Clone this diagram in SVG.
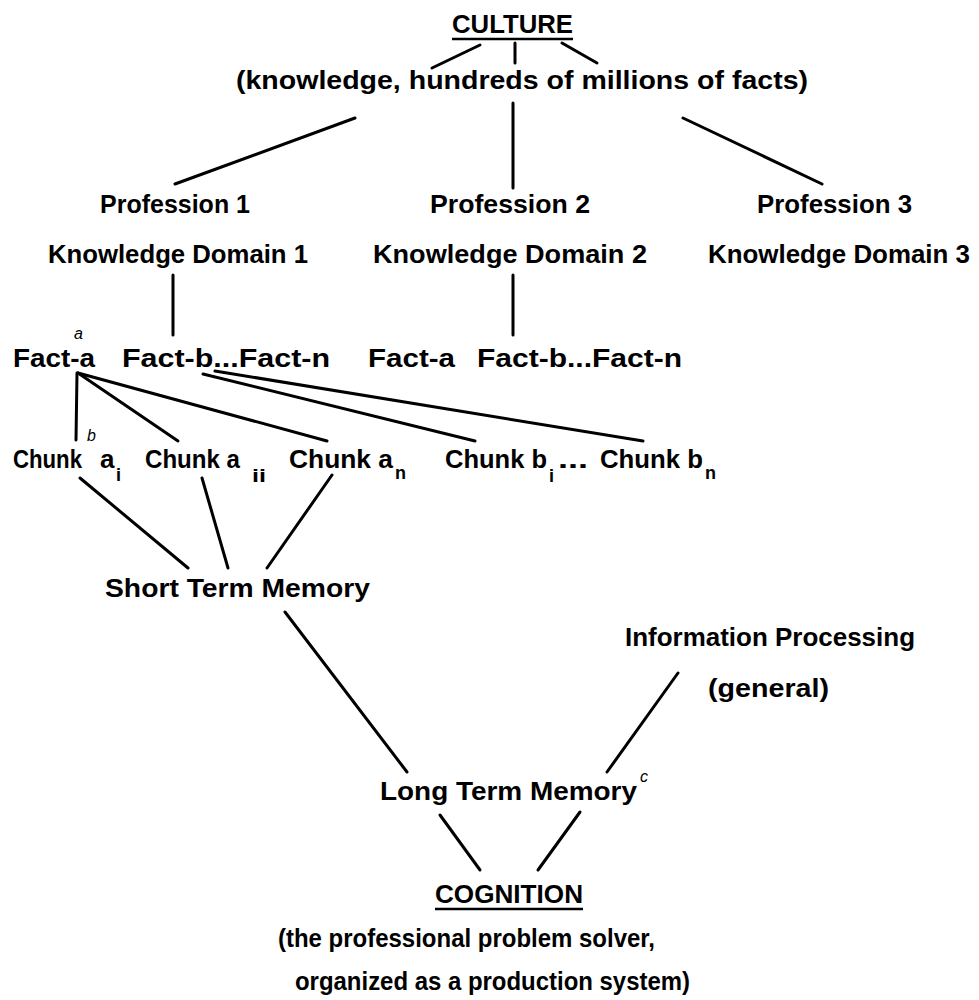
<svg xmlns="http://www.w3.org/2000/svg" width="979" height="1000" viewBox="0 0 979 1000">
<style>
.t{font-family:"Liberation Sans",Arial,sans-serif;font-size:26px;font-weight:bold;fill:#000}
.s{font-family:"Liberation Sans",Arial,sans-serif;font-size:18px;font-weight:bold;fill:#000}
.sup{font-family:"Liberation Sans",Arial,sans-serif;font-size:16px;font-style:italic;fill:#000}
.c line{stroke:#000;stroke-width:3;stroke-linecap:round}
.u{stroke:#000;stroke-width:2.5}
</style>
<rect width="979" height="1000" fill="#fff"/>
<g class="c" id="connectors">
<line x1="480" y1="45" x2="432" y2="68"/>
<line x1="515" y1="43" x2="515" y2="63"/>
<line x1="562" y1="43" x2="597" y2="63"/>
<line x1="355" y1="118" x2="175" y2="184"/>
<line x1="513" y1="103" x2="513" y2="188"/>
<line x1="683" y1="118" x2="822" y2="184"/>
<line x1="173" y1="275" x2="173" y2="335"/>
<line x1="513" y1="275" x2="513" y2="335"/>
<line x1="77" y1="373" x2="76" y2="440"/>
<line x1="78" y1="373" x2="178" y2="441"/>
<line x1="78" y1="373" x2="327" y2="441"/>
<line x1="203" y1="374" x2="475" y2="441"/>
<line x1="215" y1="371" x2="643" y2="441"/>
<line x1="80" y1="478" x2="188" y2="568"/>
<line x1="202" y1="478" x2="228" y2="568"/>
<line x1="332" y1="475" x2="267" y2="568"/>
<line x1="285" y1="612" x2="407" y2="772"/>
<line x1="678" y1="673" x2="607" y2="772"/>
<line x1="440" y1="815" x2="480" y2="870"/>
<line x1="580" y1="812" x2="538" y2="870"/>
</g>
<g id="culture">
<text class="t" x="452" y="33" textLength="121" lengthAdjust="spacingAndGlyphs">CULTURE</text>
<line class="u" x1="452" y1="39" x2="573" y2="39"/>
<text class="t" x="236" y="89" textLength="572" lengthAdjust="spacingAndGlyphs">(knowledge, hundreds of millions of facts)</text>
</g>
<g id="profession1">
<text class="t" x="100" y="213" textLength="150" lengthAdjust="spacingAndGlyphs">Profession 1</text>
<text class="t" x="48" y="263" textLength="260" lengthAdjust="spacingAndGlyphs">Knowledge Domain 1</text>
</g>
<g id="profession2">
<text class="t" x="430" y="213" textLength="160" lengthAdjust="spacingAndGlyphs">Profession 2</text>
<text class="t" x="373" y="263" textLength="274" lengthAdjust="spacingAndGlyphs">Knowledge Domain 2</text>
</g>
<g id="profession3">
<text class="t" x="757" y="213" textLength="155" lengthAdjust="spacingAndGlyphs">Profession 3</text>
<text class="t" x="708" y="263" textLength="262" lengthAdjust="spacingAndGlyphs">Knowledge Domain 3</text>
</g>
<g id="facts1">
<text class="t" x="13" y="367" textLength="82" lengthAdjust="spacingAndGlyphs">Fact-a</text>
<text class="sup" x="74" y="339">a</text>
<text class="t" x="122" y="367" textLength="208" lengthAdjust="spacingAndGlyphs">Fact-b...Fact-n</text>
</g>
<g id="facts2">
<text class="t" x="368" y="367" textLength="87" lengthAdjust="spacingAndGlyphs">Fact-a</text>
<text class="t" x="477" y="367" textLength="205" lengthAdjust="spacingAndGlyphs">Fact-b...Fact-n</text>
</g>
<g id="chunk-ai">
<text class="t" x="13" y="468" textLength="69" lengthAdjust="spacingAndGlyphs">Chunk</text>
<text class="sup" x="87" y="441">b</text>
<text class="t" x="100" y="468">a</text>
<text class="s" x="116" y="481">i</text>
</g>
<g id="chunk-aii">
<text class="t" x="145" y="468" textLength="95" lengthAdjust="spacingAndGlyphs">Chunk a</text>
<text class="s" x="252" y="482" textLength="14" lengthAdjust="spacingAndGlyphs">ii</text>
</g>
<g id="chunk-an">
<text class="t" x="289" y="468" textLength="104" lengthAdjust="spacingAndGlyphs">Chunk a</text>
<text class="s" x="395" y="479">n</text>
</g>
<g id="chunk-b">
<text class="t" x="445" y="468" textLength="102" lengthAdjust="spacingAndGlyphs">Chunk b</text>
<text class="s" x="549" y="482">i</text>
<text class="t" x="558" y="468" textLength="30" lengthAdjust="spacingAndGlyphs">...</text>
<text class="t" x="600" y="468" textLength="103" lengthAdjust="spacingAndGlyphs">Chunk b</text>
<text class="s" x="705" y="479">n</text>
</g>
<g id="stm">
<text class="t" x="105" y="597" textLength="265" lengthAdjust="spacingAndGlyphs">Short Term Memory</text>
</g>
<g id="info">
<text class="t" x="625" y="646" textLength="290" lengthAdjust="spacingAndGlyphs">Information Processing</text>
<text class="t" x="708" y="697" textLength="121" lengthAdjust="spacingAndGlyphs">(general)</text>
</g>
<g id="ltm">
<text class="t" x="380" y="800" textLength="257" lengthAdjust="spacingAndGlyphs">Long Term Memory</text>
<text class="sup" x="640" y="782">c</text>
</g>
<g id="cognition">
<text class="t" x="435" y="903" textLength="148" lengthAdjust="spacingAndGlyphs">COGNITION</text>
<line class="u" x1="435" y1="909" x2="583" y2="909"/>
<text class="t" x="278" y="947" textLength="377" lengthAdjust="spacingAndGlyphs">(the professional problem solver,</text>
<text class="t" x="295" y="990" textLength="395" lengthAdjust="spacingAndGlyphs">organized as a production system)</text>
</g>
</svg>
